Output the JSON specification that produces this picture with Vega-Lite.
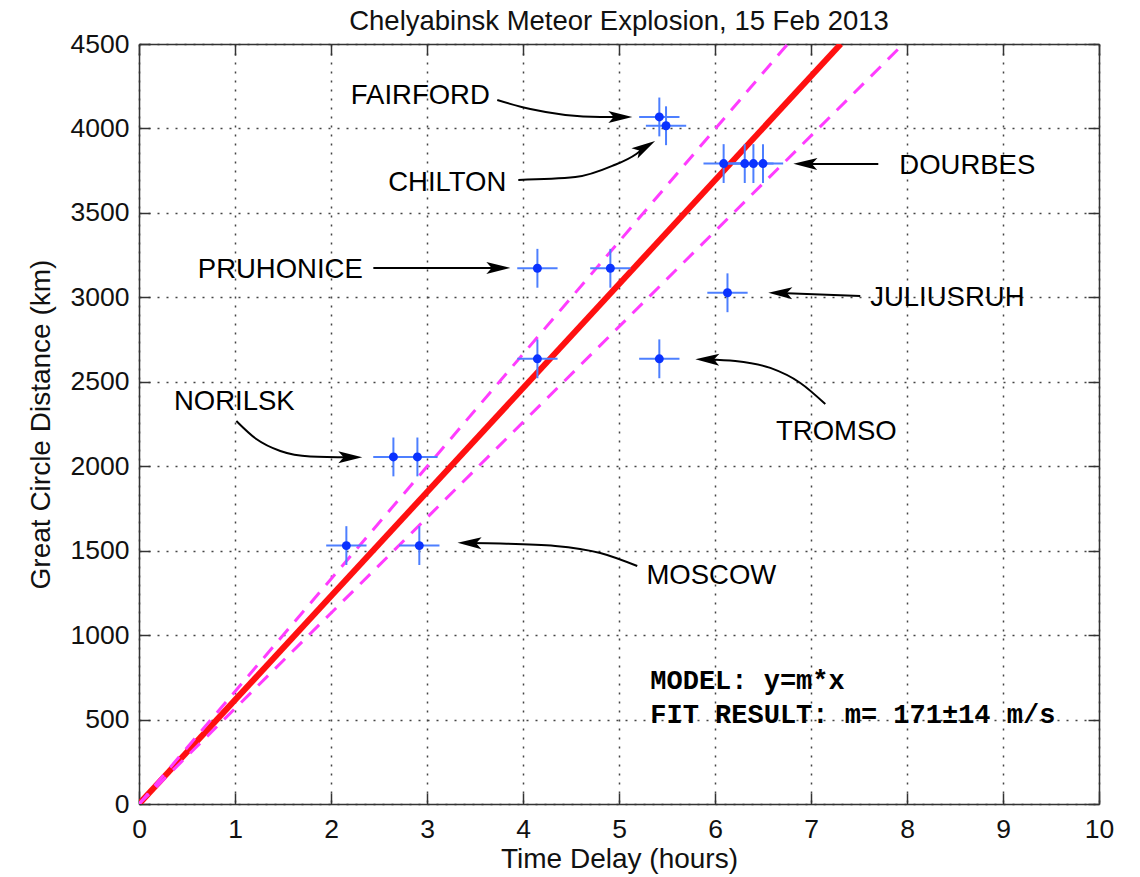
{
  "$schema": "https://vega.github.io/schema/vega-lite/v6.json",
  "width": 960,
  "height": 760,
  "autosize": {"type": "none"},
  "padding": {"left": 139, "top": 44, "right": 41, "bottom": 73},
  "background": "white",
  "title": {
    "text": "Chelyabinsk Meteor Explosion, 15 Feb 2013",
    "font": "Liberation Sans",
    "fontSize": 27.5,
    "fontWeight": "normal",
    "color": "#111111",
    "anchor": "middle",
    "offset": -4
  },
  "config": {
    "view": {"stroke": null},
    "axis": {
      "domainColor": "#333333",
      "domainWidth": 1.5,
      "tickColor": "#333333",
      "tickWidth": 1.5,
      "tickSize": -11,
      "labelFont": "Liberation Sans",
      "labelFontSize": 26.5,
      "labelColor": "#111111",
      "labelFlush": false,
      "labelOverlap": false,
      "format": "d",
      "titleFont": "Liberation Sans",
      "titleFontSize": 28,
      "titleFontWeight": "normal",
      "titleColor": "#111111",
      "gridColor": "#444444",
      "gridDash": [2, 7],
      "gridWidth": 1.5
    }
  },
  "datasets": {
    "fits": [
      {"fit": "best", "t": 0, "d": 0},
      {"fit": "best", "t": 7.31, "d": 4500},
      {"fit": "upper", "t": 0, "d": 0},
      {"fit": "upper", "t": 6.757, "d": 4500},
      {"fit": "lower", "t": 0, "d": 0},
      {"fit": "lower", "t": 7.962, "d": 4500}
    ],
    "stations": [
      {"station": "NORILSK", "t": 2.65, "d": 2055, "t_lo": 2.44, "t_hi": 2.86, "d_lo": 1940, "d_hi": 2170},
      {"station": "NORILSK", "t": 2.9, "d": 2055, "t_lo": 2.69, "t_hi": 3.11, "d_lo": 1940, "d_hi": 2170},
      {"station": "MOSCOW", "t": 2.16, "d": 1530, "t_lo": 1.95, "t_hi": 2.37, "d_lo": 1415, "d_hi": 1645},
      {"station": "MOSCOW", "t": 2.92, "d": 1530, "t_lo": 2.71, "t_hi": 3.13, "d_lo": 1415, "d_hi": 1645},
      {"station": "PRUHONICE", "t": 4.15, "d": 3172, "t_lo": 3.94, "t_hi": 4.36, "d_lo": 3057, "d_hi": 3287},
      {"station": "PRUHONICE", "t": 4.91, "d": 3172, "t_lo": 4.7, "t_hi": 5.12, "d_lo": 3057, "d_hi": 3287},
      {"station": "OTHER", "t": 4.15, "d": 2636, "t_lo": 3.94, "t_hi": 4.36, "d_lo": 2521, "d_hi": 2751},
      {"station": "TROMSO", "t": 5.42, "d": 2636, "t_lo": 5.21, "t_hi": 5.63, "d_lo": 2521, "d_hi": 2751},
      {"station": "FAIRFORD", "t": 5.42, "d": 4068, "t_lo": 5.21, "t_hi": 5.63, "d_lo": 3953, "d_hi": 4183},
      {"station": "CHILTON", "t": 5.49, "d": 4016, "t_lo": 5.28, "t_hi": 5.7, "d_lo": 3901, "d_hi": 4131},
      {"station": "DOURBES", "t": 6.09, "d": 3792, "t_lo": 5.88, "t_hi": 6.3, "d_lo": 3677, "d_hi": 3907},
      {"station": "DOURBES", "t": 6.31, "d": 3792, "t_lo": 6.1, "t_hi": 6.52, "d_lo": 3677, "d_hi": 3907},
      {"station": "DOURBES", "t": 6.4, "d": 3792, "t_lo": 6.19, "t_hi": 6.61, "d_lo": 3677, "d_hi": 3907},
      {"station": "DOURBES", "t": 6.5, "d": 3792, "t_lo": 6.29, "t_hi": 6.71, "d_lo": 3677, "d_hi": 3907},
      {"station": "JULIUSRUH", "t": 6.13, "d": 3027, "t_lo": 5.92, "t_hi": 6.34, "d_lo": 2912, "d_hi": 3142}
    ],
    "labels": [
      {"name": "FAIRFORD", "t": 2.93, "d": 4145},
      {"name": "CHILTON", "t": 3.211, "d": 3627},
      {"name": "DOURBES", "t": 8.628, "d": 3733},
      {"name": "PRUHONICE", "t": 1.472, "d": 3117},
      {"name": "JULIUSRUH", "t": 8.42, "d": 2946},
      {"name": "TROMSO", "t": 7.264, "d": 2158},
      {"name": "NORILSK", "t": 0.993, "d": 2330},
      {"name": "MOSCOW", "t": 5.962, "d": 1300}
    ],
    "arrows": [
      {"name": "FAIRFORD", "t": 3.732, "d": 4168},
      {"name": "FAIRFORD", "t": 4.076, "d": 4115},
      {"name": "FAIRFORD", "t": 4.441, "d": 4080},
      {"name": "FAIRFORD", "t": 4.805, "d": 4068},
      {"name": "FAIRFORD", "t": 5.014, "d": 4068},
      {"name": "CHILTON", "t": 3.951, "d": 3695},
      {"name": "CHILTON", "t": 4.545, "d": 3712},
      {"name": "CHILTON", "t": 4.93, "d": 3778},
      {"name": "CHILTON", "t": 5.18, "d": 3849},
      {"name": "CHILTON", "t": 5.269, "d": 3889},
      {"name": "DOURBES", "t": 7.701, "d": 3790},
      {"name": "DOURBES", "t": 6.941, "d": 3790},
      {"name": "PRUHONICE", "t": 2.441, "d": 3174},
      {"name": "PRUHONICE", "t": 3.743, "d": 3174},
      {"name": "JULIUSRUH", "t": 7.513, "d": 3008},
      {"name": "JULIUSRUH", "t": 6.68, "d": 3026},
      {"name": "TROMSO", "t": 7.149, "d": 2368},
      {"name": "TROMSO", "t": 6.889, "d": 2493},
      {"name": "TROMSO", "t": 6.576, "d": 2582},
      {"name": "TROMSO", "t": 6.211, "d": 2623},
      {"name": "TROMSO", "t": 5.92, "d": 2632},
      {"name": "NORILSK", "t": 1.014, "d": 2268},
      {"name": "NORILSK", "t": 1.222, "d": 2161},
      {"name": "NORILSK", "t": 1.472, "d": 2090},
      {"name": "NORILSK", "t": 1.784, "d": 2058},
      {"name": "NORILSK", "t": 2.201, "d": 2053},
      {"name": "MOSCOW", "t": 5.19, "d": 1409},
      {"name": "MOSCOW", "t": 4.805, "d": 1486},
      {"name": "MOSCOW", "t": 4.336, "d": 1528},
      {"name": "MOSCOW", "t": 3.764, "d": 1542},
      {"name": "MOSCOW", "t": 3.443, "d": 1545}
    ],
    "heads": [
      {"name": "FAIRFORD", "t": 5.014, "d": 4068},
      {"name": "CHILTON", "t": 5.269, "d": 3889},
      {"name": "DOURBES", "t": 6.941, "d": 3790},
      {"name": "PRUHONICE", "t": 3.743, "d": 3174},
      {"name": "JULIUSRUH", "t": 6.68, "d": 3026},
      {"name": "TROMSO", "t": 5.92, "d": 2632},
      {"name": "NORILSK", "t": 2.201, "d": 2053},
      {"name": "MOSCOW", "t": 3.443, "d": 1545}
    ],
    "notes": [
      {"line": "MODEL: y=m*x", "t": 5.326, "d": 681},
      {"line": "FIT RESULT: m= 171±14 m/s", "t": 5.326, "d": 480}
    ]
  },
  "resolve": {"axis": {"x": "independent", "y": "independent"}},
  "layer": [
    {
      "data": {"name": "fits"},
      "transform": [{"filter": "datum.fit === 'best'"}],
      "mark": {"type": "line", "color": "#ff1010", "strokeWidth": 6, "clip": true},
      "encoding": {
        "x": {"field": "t", "type": "quantitative", "scale": {"domain": [0, 10], "nice": false},
              "axis": {"orient": "top", "labels": false, "grid": false, "title": null, "values": [0,1,2,3,4,5,6,7,8,9,10]}},
        "y": {"field": "d", "type": "quantitative", "scale": {"domain": [0, 4500], "nice": false},
              "axis": {"orient": "right", "labels": false, "grid": false, "title": null, "values": [0,500,1000,1500,2000,2500,3000,3500,4000,4500]}}
      }
    },
    {
      "layer": [
        {
          "data": {"name": "fits"},
          "transform": [{"filter": "datum.fit !== 'best'"}],
          "mark": {"type": "line", "color": "#ff3cff", "strokeWidth": 3, "strokeDash": [14, 10], "clip": true},
          "encoding": {
            "x": {"field": "t", "type": "quantitative", "title": "Time Delay (hours)",
                  "axis": {"orient": "bottom", "grid": true, "labelPadding": 23, "titlePadding": 3, "values": [0,1,2,3,4,5,6,7,8,9,10]}},
            "y": {"field": "d", "type": "quantitative", "title": "Great Circle Distance (km)",
                  "axis": {"orient": "left", "grid": true, "labelPadding": 21, "titlePadding": 15, "values": [0,500,1000,1500,2000,2500,3000,3500,4000,4500]}},
            "detail": {"field": "fit"}
          }
        },
        {
          "data": {"name": "stations"},
          "mark": {"type": "rule", "color": "#4d7fff", "strokeWidth": 2},
          "encoding": {
            "x": {"field": "t_lo", "type": "quantitative", "title": "Time Delay (hours)"},
            "x2": {"field": "t_hi"},
            "y": {"field": "d", "type": "quantitative", "title": "Great Circle Distance (km)"}
          }
        },
        {
          "data": {"name": "stations"},
          "mark": {"type": "rule", "color": "#4d7fff", "strokeWidth": 2},
          "encoding": {
            "x": {"field": "t", "type": "quantitative", "title": "Time Delay (hours)"},
            "y": {"field": "d_lo", "type": "quantitative", "title": "Great Circle Distance (km)"},
            "y2": {"field": "d_hi"}
          }
        },
        {
          "data": {"name": "stations"},
          "mark": {"type": "circle", "color": "#0a32ff", "size": 80, "opacity": 1},
          "encoding": {
            "x": {"field": "t", "type": "quantitative", "title": "Time Delay (hours)"},
            "y": {"field": "d", "type": "quantitative", "title": "Great Circle Distance (km)"}
          }
        },
        {
          "data": {"name": "arrows"},
          "mark": {"type": "line", "color": "#000000", "strokeWidth": 2, "interpolate": "monotone"},
          "encoding": {
            "x": {"field": "t", "type": "quantitative", "title": "Time Delay (hours)"},
            "y": {"field": "d", "type": "quantitative", "title": "Great Circle Distance (km)"},
            "detail": {"field": "name"}
          }
        },
        {
          "data": {"name": "heads"},
          "transform": [{"filter": {"field": "name", "oneOf": ["FAIRFORD", "PRUHONICE", "NORILSK"]}}],
          "mark": {"type": "point", "shape": "M0,-1L0.5,1L0,0.55L-0.5,1Z", "filled": true, "color": "#000000", "opacity": 1, "size": 576, "angle": 90},
          "encoding": {
            "x": {"field": "t", "type": "quantitative", "title": "Time Delay (hours)"},
            "y": {"field": "d", "type": "quantitative", "title": "Great Circle Distance (km)"}
          }
        },
        {
          "data": {"name": "heads"},
          "transform": [{"filter": {"field": "name", "oneOf": ["DOURBES", "JULIUSRUH", "TROMSO", "MOSCOW"]}}],
          "mark": {"type": "point", "shape": "M0,-1L0.5,1L0,0.55L-0.5,1Z", "filled": true, "color": "#000000", "opacity": 1, "size": 576, "angle": 271},
          "encoding": {
            "x": {"field": "t", "type": "quantitative", "title": "Time Delay (hours)"},
            "y": {"field": "d", "type": "quantitative", "title": "Great Circle Distance (km)"}
          }
        },
        {
          "data": {"name": "heads"},
          "transform": [{"filter": {"field": "name", "oneOf": ["CHILTON"]}}],
          "mark": {"type": "point", "shape": "M0,-1L0.5,1L0,0.55L-0.5,1Z", "filled": true, "color": "#000000", "opacity": 1, "size": 576, "angle": 59},
          "encoding": {
            "x": {"field": "t", "type": "quantitative", "title": "Time Delay (hours)"},
            "y": {"field": "d", "type": "quantitative", "title": "Great Circle Distance (km)"}
          }
        },
        {
          "data": {"name": "labels"},
          "mark": {"type": "text", "font": "Liberation Sans", "fontSize": 27.5, "color": "#000000", "align": "center", "baseline": "alphabetic"},
          "encoding": {
            "x": {"field": "t", "type": "quantitative", "title": "Time Delay (hours)"},
            "y": {"field": "d", "type": "quantitative", "title": "Great Circle Distance (km)"},
            "text": {"field": "name"}
          }
        },
        {
          "data": {"name": "notes"},
          "mark": {"type": "text", "font": "Liberation Mono", "fontWeight": "bold", "fontSize": 27, "color": "#000000", "align": "left", "baseline": "alphabetic"},
          "encoding": {
            "x": {"field": "t", "type": "quantitative", "title": "Time Delay (hours)"},
            "y": {"field": "d", "type": "quantitative", "title": "Great Circle Distance (km)"},
            "text": {"field": "line"}
          }
        }
      ]
    }
  ]
}
